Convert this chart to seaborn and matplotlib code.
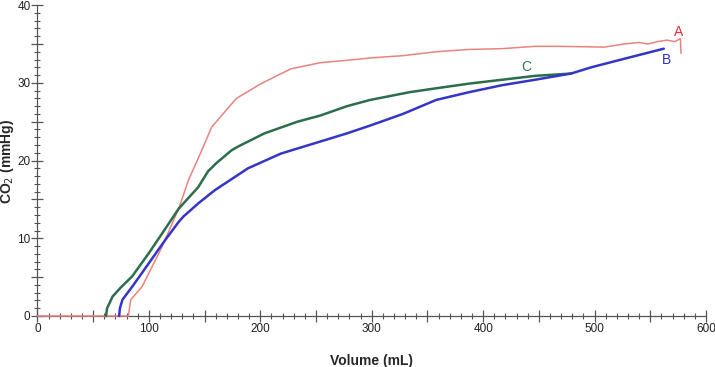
import numpy as np
import pandas as pd
import matplotlib.pyplot as plt
import seaborn as sns
from matplotlib.ticker import MultipleLocator, FuncFormatter

# curve A (red)
a_x = [0, 81.6, 83.7, 94, 111.8, 126.7, 135.6, 147.4, 156.3, 178.5, 200.7, 227.4, 254, 277.8,
       298.5, 328, 357.8, 387.4, 417, 446.7, 467.4, 508.9, 526.7, 540, 548, 556.3, 565, 572, 577, 577.6]
a_y = [0, 0, 2.1, 3.8, 8.9, 13.8, 17.5, 21.3, 24.3, 28.0, 29.9, 31.8, 32.6, 32.9,
       33.2, 33.5, 34.0, 34.3, 34.4, 34.7, 34.7, 34.6, 35.0, 35.2, 35.0, 35.3, 35.5, 35.3, 35.7, 33.8]

# curve B (blue)
b_x = [73.3, 74, 76.3, 85.2, 100, 114.8, 126.7, 131, 144.4, 159.3, 188.9, 218.5, 248.2, 277.8,
       298.5, 328, 357.8, 387.4, 417, 446.7, 479, 497, 526.7, 562.2]
b_y = [0, 1.0, 2.1, 3.8, 6.8, 9.8, 12.1, 12.8, 14.5, 16.2, 19.0, 20.9, 22.2, 23.5,
       24.5, 26.0, 27.8, 28.8, 29.7, 30.4, 31.2, 32.0, 33.1, 34.4]

# curve C (green)
c_x = [61.5, 62.5, 67.4, 75, 85, 100, 111.8, 126.7, 144.4, 153, 160, 174, 180, 203.7, 233.3,
       254, 277.8, 298.5, 334, 357.8, 387.4, 417, 446.7, 479]
c_y = [0, 1.0, 2.5, 3.7, 5.1, 8.1, 10.6, 13.8, 16.6, 18.6, 19.6, 21.3, 21.8, 23.5, 25.0,
       25.8, 27.0, 27.8, 28.8, 29.3, 29.9, 30.4, 30.9, 31.2]

sns.set_style('white')
plt.rcParams['font.family'] = ['Liberation Sans', 'DejaVu Sans']

fig = plt.figure(figsize=(7.15, 3.67), dpi=100)
ax = fig.add_axes([0.0524, 0.139, 0.935, 0.847])

for xs, ys, col, lw in [(a_x, a_y, '#e8837d', 1.1), (c_x, c_y, '#2b6e4c', 1.8), (b_x, b_y, '#3535c8', 1.8)]:
    sns.lineplot(x=xs, y=ys, ax=ax, color=col, lw=lw, sort=False, estimator=None)
for ln in ax.lines:
    ln.set_clip_on(False)
    ln.set_zorder(3)

ax.text(575.6, 36.6, 'A', color='#e03030', fontsize=10, ha='center', va='center')
ax.text(565, 32.9, 'B', color='#3030c0', fontsize=10, ha='center', va='center')
ax.text(438.7, 32.1, 'C', color='#2b7a50', fontsize=10, ha='center', va='center')

ax.set_xlim(0, 600)
ax.set_ylim(0, 40)
ax.xaxis.set_major_locator(MultipleLocator(50))
ax.xaxis.set_minor_locator(MultipleLocator(10))
ax.yaxis.set_major_locator(MultipleLocator(5))
ax.yaxis.set_minor_locator(MultipleLocator(1))
ax.xaxis.set_major_formatter(FuncFormatter(lambda v, p: f'{int(v)}' if v % 100 == 0 else ''))
ax.yaxis.set_major_formatter(FuncFormatter(lambda v, p: f'{int(v)}' if v % 10 == 0 else ''))
ax.tick_params(which='major', direction='inout', length=8, width=0.9, color='#555555',
               labelsize=8.5, labelcolor='#222222')
ax.tick_params(which='minor', direction='inout', length=5, width=0.8, color='#555555')
ax.tick_params(axis='x', which='both', bottom=True, pad=1)
ax.tick_params(axis='y', which='both', left=True, pad=1)

for s in ['top', 'right']:
    ax.spines[s].set_visible(False)
for s in ['left', 'bottom']:
    ax.spines[s].set_color('#555555')
    ax.spines[s].set_linewidth(0.9)

ax.set_xlabel('Volume (mL)', fontsize=10, fontweight='bold', labelpad=14)
fig.text(7.5 / 715, 0.56, 'CO$_2$ (mmHg)', fontsize=10, fontweight='bold',
         rotation=90, ha='center', va='center')

fig.savefig('out.png', dpi=100)
